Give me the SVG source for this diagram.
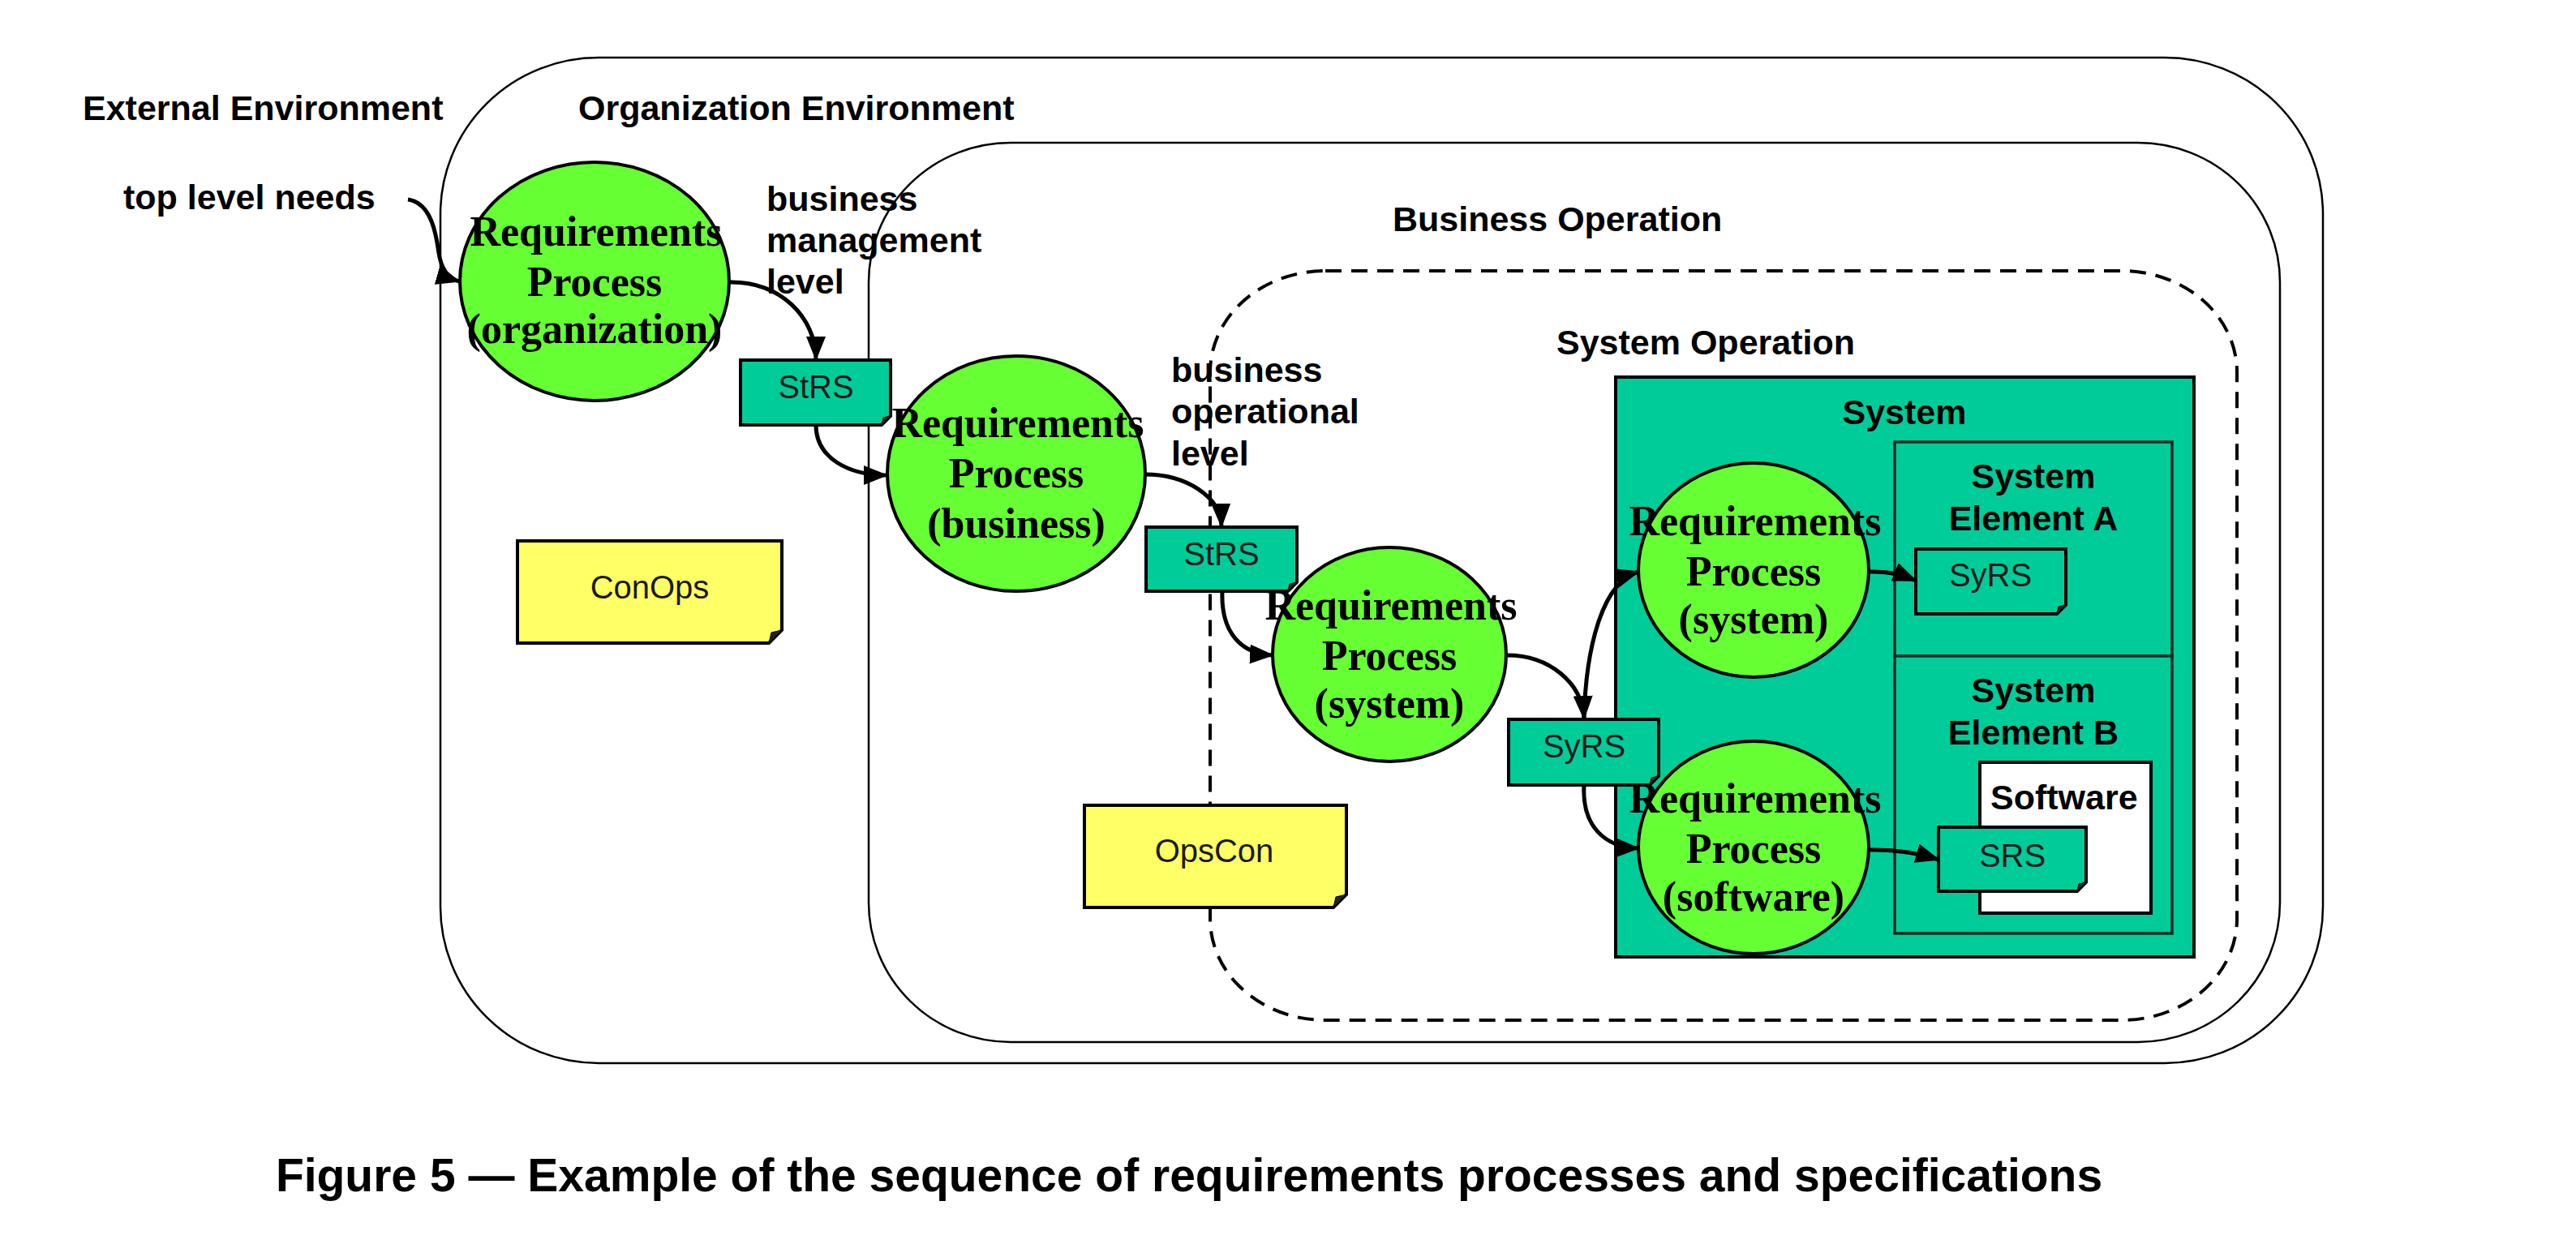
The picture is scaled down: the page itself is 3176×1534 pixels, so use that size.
<svg xmlns="http://www.w3.org/2000/svg" width="3176" height="1534" viewBox="0 0 3176 1534">
<defs>
<style>
.lbl{font-family:"Liberation Sans",Arial,sans-serif;font-weight:bold;font-size:43px;fill:#000}
.cap{font-family:"Liberation Sans",Arial,sans-serif;font-weight:bold;font-size:57px;fill:#000}
.doc{font-family:"Liberation Sans",Arial,sans-serif;font-size:40px;fill:#1a1a1a}
.proc{font-family:"Liberation Serif","Times New Roman",serif;font-weight:bold;font-size:52px;fill:#000}
.env{fill:none;stroke:#000;stroke-width:2.5}
.dash{fill:none;stroke:#000;stroke-width:4;stroke-dasharray:20 12}
.ell{fill:#66FF33;stroke:#000;stroke-width:4}
.spec{fill:#00CC99;stroke:#000;stroke-width:4}
.note{fill:#FFFF66;stroke:#000;stroke-width:4}
.fold{fill:#222;stroke:#000;stroke-width:1}
.conn{fill:none;stroke:#000;stroke-width:5;marker-end:url(#ah)}
</style>
<marker id="ah" markerUnits="userSpaceOnUse" markerWidth="30" markerHeight="24" refX="28" refY="12" orient="auto">
<path d="M0,0 L30,12 L0,24 Z" fill="#000"/>
</marker>
</defs>
<rect width="3176" height="1534" fill="#fff"/>

<g id="labels">
<text class="lbl" x="102" y="148">External Environment</text>
<text class="lbl" x="713" y="148">Organization Environment</text>
<text class="lbl" x="152" y="258">top level needs</text>
<text class="lbl" x="945" y="260">business</text>
<text class="lbl" x="945" y="311">management</text>
<text class="lbl" x="945" y="362">level</text>
<text class="lbl" x="1717" y="285">Business Operation</text>
<text class="lbl" x="1444" y="471">business</text>
<text class="lbl" x="1444" y="522">operational</text>
<text class="lbl" x="1444" y="574">level</text>
<text class="lbl" x="1919" y="437">System Operation</text>
</g>

<g id="organization-environment">
<rect class="env" x="543" y="71" width="2321" height="1240" rx="195" ry="193"/>
</g>
<g id="business-environment">
<rect class="env" x="1071" y="176" width="1740" height="1109" rx="175" ry="172"/>
</g>
<g id="business-operation">
<rect class="dash" x="1492" y="334" width="1266" height="924" rx="142" ry="125"/>
</g>

<g id="system">
<rect x="1992" y="465" width="713" height="715" fill="#00CC99" stroke="#000" stroke-width="4"/>
<text class="lbl" x="2348" y="523" text-anchor="middle">System</text>
</g>
<g id="system-element-a">
<rect x="2336" y="545" width="342" height="264" fill="#00CC99" stroke="#102a22" stroke-width="3.5"/>
<text class="lbl" x="2507" y="602" text-anchor="middle">System</text>
<text class="lbl" x="2507" y="654" text-anchor="middle">Element A</text>
</g>
<g id="system-element-b">
<rect x="2336" y="809" width="342" height="342" fill="#00CC99" stroke="#102a22" stroke-width="3.5"/>
<text class="lbl" x="2507" y="866" text-anchor="middle">System</text>
<text class="lbl" x="2507" y="918" text-anchor="middle">Element B</text>
</g>
<g id="software">
<rect x="2441" y="940" width="211" height="186" fill="#fff" stroke="#000" stroke-width="4"/>
<text class="lbl" x="2454" y="998">Software</text>
</g>

<g id="conops">
<path class="note" d="M638,667 H964 V777 L948,793 H638 Z"/>
<path class="fold" d="M964,777 L948,793 L951,780 Z"/>
<text class="doc" x="801" y="738" text-anchor="middle">ConOps</text>
</g>
<g id="opscon">
<path class="note" d="M1337,993 H1660 V1103 L1644,1119 H1337 Z"/>
<path class="fold" d="M1660,1103 L1644,1119 L1647,1106 Z"/>
<text class="doc" x="1497" y="1063" text-anchor="middle">OpsCon</text>
</g>

<g id="strs-1">
<path class="spec" d="M913,444 H1098 V513 L1087,524 H913 Z"/>
<path class="fold" d="M1098,513 L1087,524 L1089,515 Z"/>
<text class="doc" x="1006" y="491" text-anchor="middle">StRS</text>
</g>
<g id="strs-2">
<path class="spec" d="M1413,650 H1599 V718 L1588,729 H1413 Z"/>
<path class="fold" d="M1599,718 L1588,729 L1590,720 Z"/>
<text class="doc" x="1506" y="697" text-anchor="middle">StRS</text>
</g>
<g id="syrs-1">
<path class="spec" d="M1860,887 H2045 V957 L2034,968 H1860 Z"/>
<path class="fold" d="M2045,957 L2034,968 L2036,959 Z"/>
<text class="doc" x="1953" y="934" text-anchor="middle">SyRS</text>
</g>
<g id="syrs-2">
<path class="spec" d="M2362,677 H2547 V746 L2536,757 H2362 Z"/>
<path class="fold" d="M2547,746 L2536,757 L2538,748 Z"/>
<text class="doc" x="2454" y="723" text-anchor="middle">SyRS</text>
</g>
<g id="srs">
<path class="spec" d="M2390,1020 H2572 V1088 L2561,1099 H2390 Z"/>
<path class="fold" d="M2572,1088 L2561,1099 L2563,1090 Z"/>
<text class="doc" x="2481" y="1069" text-anchor="middle">SRS</text>
</g>

<g id="rp-organization">
<ellipse class="ell" cx="733" cy="347" rx="166" ry="147"/>
<text class="proc" x="735" y="303" text-anchor="middle">Requirements</text>
<text class="proc" x="733" y="365" text-anchor="middle">Process</text>
<text class="proc" x="733" y="423" text-anchor="middle">(organization)</text>
</g>
<g id="rp-business">
<ellipse class="ell" cx="1253" cy="584" rx="159" ry="145"/>
<text class="proc" x="1255" y="539" text-anchor="middle">Requirements</text>
<text class="proc" x="1253" y="601" text-anchor="middle">Process</text>
<text class="proc" x="1253" y="663" text-anchor="middle">(business)</text>
</g>
<g id="rp-system-1">
<ellipse class="ell" cx="1713" cy="807" rx="144" ry="132"/>
<text class="proc" x="1715" y="764" text-anchor="middle">Requirements</text>
<text class="proc" x="1713" y="826" text-anchor="middle">Process</text>
<text class="proc" x="1713" y="885" text-anchor="middle">(system)</text>
</g>
<g id="rp-system-2">
<ellipse class="ell" cx="2162" cy="703" rx="142" ry="132"/>
<text class="proc" x="2164" y="660" text-anchor="middle">Requirements</text>
<text class="proc" x="2162" y="722" text-anchor="middle">Process</text>
<text class="proc" x="2162" y="781" text-anchor="middle">(system)</text>
</g>
<g id="rp-software">
<ellipse class="ell" cx="2162" cy="1045" rx="142" ry="131"/>
<text class="proc" x="2164" y="1002" text-anchor="middle">Requirements</text>
<text class="proc" x="2162" y="1064" text-anchor="middle">Process</text>
<text class="proc" x="2162" y="1123" text-anchor="middle">(software)</text>
</g>

<g id="connectors">
<path class="conn" d="M503,246 C532,250 538,290 541,312 C544,332 552,343 566,347"/>
<path class="conn" d="M899,348 C962,346 1006,392 1006,443"/>
<path class="conn" d="M1006,524 C1006,566 1048,586 1093,586"/>
<path class="conn" d="M1412,585 C1462,585 1505,612 1506,649"/>
<path class="conn" d="M1507,729 C1505,780 1530,806 1569,808"/>
<path class="conn" d="M1858,808 C1910,808 1951,842 1953,886"/>
<path class="conn" d="M1953,887 C1955,800 1975,718 2020,705"/>
<path class="conn" d="M1953,968 C1950,1020 1980,1045 2020,1046"/>
<path class="conn" d="M2305,705 C2330,704 2345,709 2362,716"/>
<path class="conn" d="M2305,1048 C2340,1047 2366,1053 2390,1060"/>
</g>

<text class="cap" x="1466" y="1469" text-anchor="middle">Figure 5 — Example of the sequence of requirements processes and specifications</text>
</svg>
